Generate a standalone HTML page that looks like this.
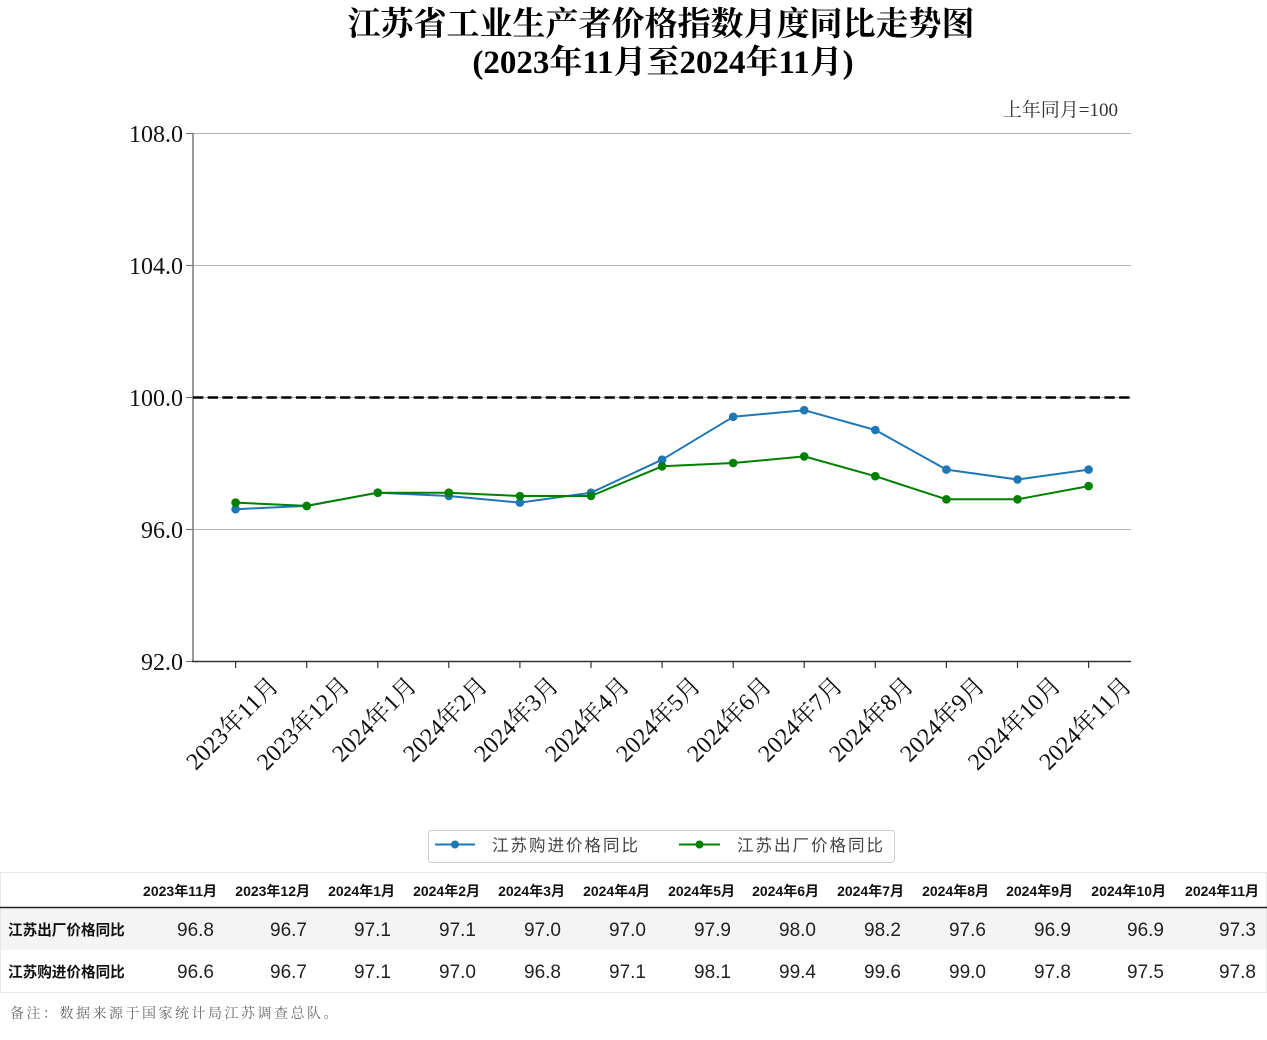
<!DOCTYPE html>
<html><head><meta charset="utf-8"><style>
html,body{margin:0;padding:0;background:#fff;}
svg{display:block;}
.serif{font-family:"Liberation Serif","Noto Serif CJK SC",serif;}
.sans{font-family:"Liberation Sans","Noto Sans CJK SC",sans-serif;}
</style></head><body>
<svg width="1267" height="1040" viewBox="0 0 1267 1040" xmlns="http://www.w3.org/2000/svg">
<rect width="1267" height="1040" fill="#fff"/>
<!-- Title -->
<text class="serif" x="661" y="35" font-size="33" font-weight="bold" text-anchor="middle" fill="#000">江苏省工业生产者价格指数月度同比走势图</text>
<text class="serif" x="663" y="73" font-size="33" font-weight="bold" text-anchor="middle" fill="#000">(2023年11月至2024年11月)</text>
<text class="serif" x="1118" y="116" font-size="19" text-anchor="end" fill="#333">上年同月=100</text>

<!-- grid -->
<g stroke="#b0b0b0" stroke-width="1">
<line x1="193" y1="133.5" x2="1131" y2="133.5"/>
<line x1="193" y1="265.5" x2="1131" y2="265.5"/>
<line x1="193" y1="397.5" x2="1131" y2="397.5"/>
<line x1="193" y1="529.5" x2="1131" y2="529.5"/>
</g>
<!-- y ticks -->
<g stroke="#777" stroke-width="1.2">
<line x1="186" y1="133.5" x2="193" y2="133.5"/>
<line x1="186" y1="265.5" x2="193" y2="265.5"/>
<line x1="186" y1="397.5" x2="193" y2="397.5"/>
<line x1="186" y1="529.5" x2="193" y2="529.5"/>
<line x1="186" y1="661.5" x2="193" y2="661.5"/>
</g>
<g class="serif" font-size="24" text-anchor="end" fill="#111">
<text x="183" y="142">108.0</text>
<text x="183" y="274">104.0</text>
<text x="183" y="406">100.0</text>
<text x="183" y="538">96.0</text>
<text x="183" y="670">92.0</text>
</g>
<!-- spines -->
<line x1="193" y1="133" x2="193" y2="662" stroke="#808080" stroke-width="1.6"/>
<line x1="192" y1="661.5" x2="1131" y2="661.5" stroke="#333" stroke-width="1.6"/>
<!-- dashed 100 -->
<line x1="193" y1="397.5" x2="1131" y2="397.5" stroke="#000" stroke-width="2.6" stroke-dasharray="10.3,4.4"/>

<!-- x ticks -->
<g stroke="#333" stroke-width="1.2">
<line x1="235.6" y1="662" x2="235.6" y2="668"/>
<line x1="306.7" y1="662" x2="306.7" y2="668"/>
<line x1="377.8" y1="662" x2="377.8" y2="668"/>
<line x1="448.8" y1="662" x2="448.8" y2="668"/>
<line x1="519.9" y1="662" x2="519.9" y2="668"/>
<line x1="591.0" y1="662" x2="591.0" y2="668"/>
<line x1="662.1" y1="662" x2="662.1" y2="668"/>
<line x1="733.2" y1="662" x2="733.2" y2="668"/>
<line x1="804.2" y1="662" x2="804.2" y2="668"/>
<line x1="875.3" y1="662" x2="875.3" y2="668"/>
<line x1="946.4" y1="662" x2="946.4" y2="668"/>
<line x1="1017.5" y1="662" x2="1017.5" y2="668"/>
<line x1="1088.6" y1="662" x2="1088.6" y2="668"/>
</g>
<g class="serif" font-size="24" text-anchor="middle" dominant-baseline="central" fill="#111">
<text x="233" y="724" transform="rotate(-45 233 724)">2023年11月</text>
<text x="304" y="724" transform="rotate(-45 304 724)">2023年12月</text>
<text x="375" y="720" transform="rotate(-45 375 720)">2024年1月</text>
<text x="446" y="720" transform="rotate(-45 446 720)">2024年2月</text>
<text x="517" y="720" transform="rotate(-45 517 720)">2024年3月</text>
<text x="588" y="720" transform="rotate(-45 588 720)">2024年4月</text>
<text x="659" y="720" transform="rotate(-45 659 720)">2024年5月</text>
<text x="730" y="720" transform="rotate(-45 730 720)">2024年6月</text>
<text x="801" y="720" transform="rotate(-45 801 720)">2024年7月</text>
<text x="872" y="720" transform="rotate(-45 872 720)">2024年8月</text>
<text x="943" y="720" transform="rotate(-45 943 720)">2024年9月</text>
<text x="1015" y="724" transform="rotate(-45 1015 724)">2024年10月</text>
<text x="1086" y="724" transform="rotate(-45 1086 724)">2024年11月</text>
</g>

<!-- blue series -->
<polyline fill="none" stroke="#1f77b4" stroke-width="2" stroke-linejoin="round"
 points="235.6,509.2 306.7,505.9 377.8,492.7 448.8,496 519.9,502.6 591.0,492.7 662.1,459.7 733.2,416.8 804.2,410.2 875.3,430 946.4,469.6 1017.5,479.5 1088.6,469.6"/>
<g fill="#1f77b4">
<circle cx="235.6" cy="509.2" r="4.3"/><circle cx="306.7" cy="505.9" r="4.3"/><circle cx="377.8" cy="492.7" r="4.3"/>
<circle cx="448.8" cy="496" r="4.3"/><circle cx="519.9" cy="502.6" r="4.3"/><circle cx="591.0" cy="492.7" r="4.3"/>
<circle cx="662.1" cy="459.7" r="4.3"/><circle cx="733.2" cy="416.8" r="4.3"/><circle cx="804.2" cy="410.2" r="4.3"/>
<circle cx="875.3" cy="430" r="4.3"/><circle cx="946.4" cy="469.6" r="4.3"/><circle cx="1017.5" cy="479.5" r="4.3"/>
<circle cx="1088.6" cy="469.6" r="4.3"/>
</g>
<!-- green series -->
<polyline fill="none" stroke="#008000" stroke-width="2" stroke-linejoin="round"
 points="235.6,502.6 306.7,505.9 377.8,492.7 448.8,492.7 519.9,496 591.0,496 662.1,466.3 733.2,463 804.2,456.4 875.3,476.2 946.4,499.3 1017.5,499.3 1088.6,486.1"/>
<g fill="#008000">
<circle cx="235.6" cy="502.6" r="4.3"/><circle cx="306.7" cy="505.9" r="4.3"/><circle cx="377.8" cy="492.7" r="4.3"/>
<circle cx="448.8" cy="492.7" r="4.3"/><circle cx="519.9" cy="496" r="4.3"/><circle cx="591.0" cy="496" r="4.3"/>
<circle cx="662.1" cy="466.3" r="4.3"/><circle cx="733.2" cy="463" r="4.3"/><circle cx="804.2" cy="456.4" r="4.3"/>
<circle cx="875.3" cy="476.2" r="4.3"/><circle cx="946.4" cy="499.3" r="4.3"/><circle cx="1017.5" cy="499.3" r="4.3"/>
<circle cx="1088.6" cy="486.1" r="4.3"/>
</g>

<!-- legend -->
<rect x="428.5" y="830.5" width="466" height="32" rx="3" ry="3" fill="#fff" stroke="#cccccc" stroke-width="1"/>
<line x1="435" y1="844.5" x2="475" y2="844.5" stroke="#1f77b4" stroke-width="2"/>
<circle cx="455" cy="844.5" r="4" fill="#1f77b4"/>
<text class="sans" x="492" y="851" font-size="16.5" letter-spacing="2" fill="#444">江苏购进价格同比</text>
<line x1="679" y1="844.5" x2="720" y2="844.5" stroke="#008000" stroke-width="2"/>
<circle cx="699.5" cy="844.5" r="4" fill="#008000"/>
<text class="sans" x="737" y="851" font-size="16.5" letter-spacing="2" fill="#444">江苏出厂价格同比</text>

<!-- table -->
<rect x="0.5" y="872.5" width="1266" height="120" fill="#fff" stroke="#e8e8e8" stroke-width="1"/>
<rect x="1" y="908" width="1265" height="42" fill="#f4f4f4"/>
<line x1="0" y1="907.5" x2="1267" y2="907.5" stroke="#222" stroke-width="1.5"/>
<g class="sans" font-size="14" font-weight="bold" text-anchor="end" fill="#111">
<text x="217" y="896">2023年11月</text>
<text x="310" y="896">2023年12月</text>
<text x="395" y="896">2024年1月</text>
<text x="480" y="896">2024年2月</text>
<text x="565" y="896">2024年3月</text>
<text x="650" y="896">2024年4月</text>
<text x="735" y="896">2024年5月</text>
<text x="819" y="896">2024年6月</text>
<text x="904" y="896">2024年7月</text>
<text x="989" y="896">2024年8月</text>
<text x="1073" y="896">2024年9月</text>
<text x="1166" y="896">2024年10月</text>
<text x="1259" y="896">2024年11月</text>
</g>
<g class="sans" font-size="14.6" font-weight="bold" fill="#111">
<text x="8" y="935">江苏出厂价格同比</text>
<text x="8" y="977">江苏购进价格同比</text>
</g>
<g class="sans" font-size="19" text-anchor="end" fill="#222">
<text x="214" y="936">96.8</text>
<text x="307" y="936">96.7</text>
<text x="391" y="936">97.1</text>
<text x="476" y="936">97.1</text>
<text x="561" y="936">97.0</text>
<text x="646" y="936">97.0</text>
<text x="731" y="936">97.9</text>
<text x="816" y="936">98.0</text>
<text x="901" y="936">98.2</text>
<text x="986" y="936">97.6</text>
<text x="1071" y="936">96.9</text>
<text x="1164" y="936">96.9</text>
<text x="1256" y="936">97.3</text>
<text x="214" y="978">96.6</text>
<text x="307" y="978">96.7</text>
<text x="391" y="978">97.1</text>
<text x="476" y="978">97.0</text>
<text x="561" y="978">96.8</text>
<text x="646" y="978">97.1</text>
<text x="731" y="978">98.1</text>
<text x="816" y="978">99.4</text>
<text x="901" y="978">99.6</text>
<text x="986" y="978">99.0</text>
<text x="1071" y="978">97.8</text>
<text x="1164" y="978">97.5</text>
<text x="1256" y="978">97.8</text>
</g>
<text class="serif" x="10" y="1018" font-size="14" letter-spacing="2.5" fill="#666">备注：数据来源于国家统计局江苏调查总队。</text>
</svg>
</body></html>
